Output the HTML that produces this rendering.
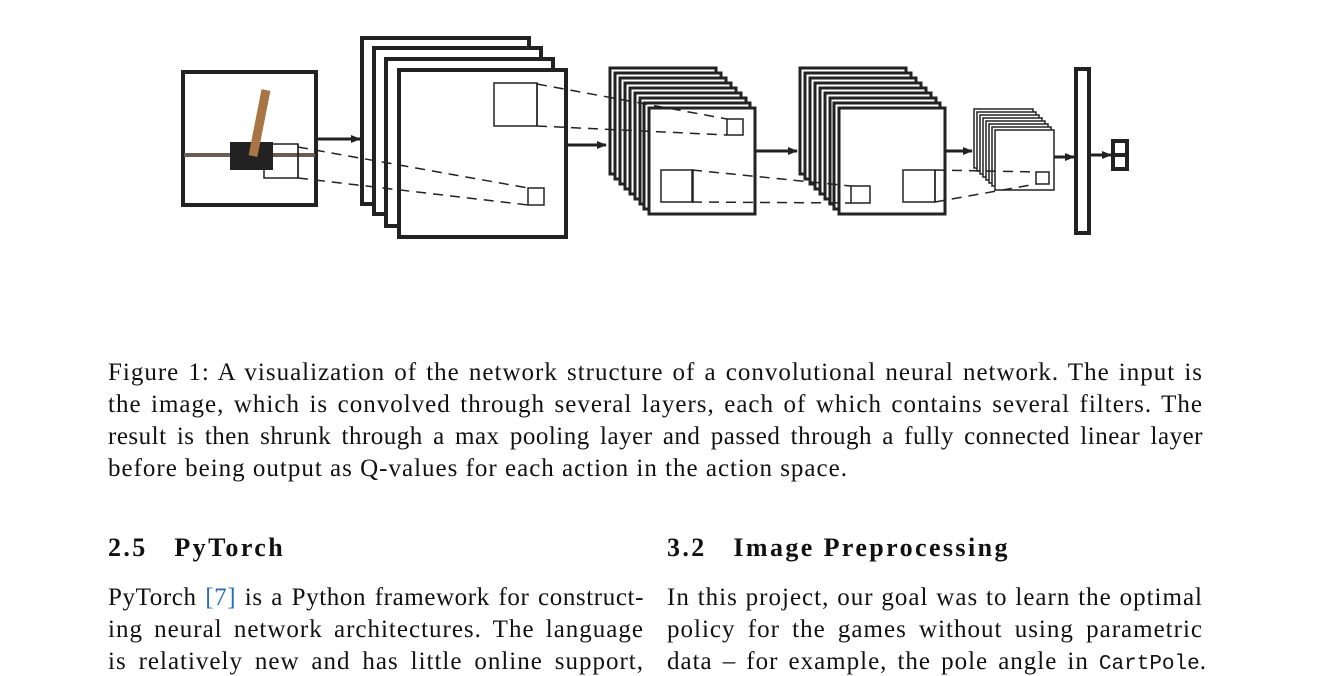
<!DOCTYPE html>
<html><head><meta charset="utf-8"><style>
html,body{margin:0;padding:0;background:#fff;}
body{width:1337px;height:675px;position:relative;overflow:hidden;font-family:"Liberation Serif",serif;color:#111;}
.l{position:absolute;font-size:25px;letter-spacing:1px;white-space:nowrap;line-height:1;}
.j{text-align:justify;text-align-last:justify;}
.h{position:absolute;font-size:26px;letter-spacing:2.4px;font-weight:bold;white-space:nowrap;line-height:1;}
.tt{font-family:"Liberation Mono",monospace;font-size:21px;letter-spacing:0;}
</style></head><body>
<svg width="1337" height="300" style="position:absolute;left:0;top:0" xmlns="http://www.w3.org/2000/svg">
<defs><marker id="a" markerWidth="10" markerHeight="8" refX="9" refY="4" orient="auto" markerUnits="userSpaceOnUse"><path d="M0,0 L10,4 L0,8 z" fill="#222"/></marker></defs>
<g fill="#fff" stroke="#222">
<rect x="183" y="72" width="133" height="133" stroke-width="4"/>
<line x1="184" y1="155" x2="315" y2="155" stroke="#6b5d4f" stroke-width="4"/>
<rect x="230" y="142" width="43" height="28" fill="#222" stroke="none"/>
<line x1="266" y1="90" x2="253" y2="156" stroke="#a87545" stroke-width="9"/>
<rect x="264" y="144" width="34" height="34" stroke-width="1.5" fill="none"/>
<rect x="362" y="38" width="167" height="166" stroke-width="4"/>
<rect x="374" y="48" width="167" height="166" stroke-width="4"/>
<rect x="386" y="59" width="167" height="167" stroke-width="4"/>
<rect x="399" y="70" width="167" height="167" stroke-width="4"/>
<rect x="494" y="83" width="43" height="43" stroke-width="1.5"/>
<rect x="528" y="188" width="16" height="17" stroke-width="1.5"/>
<rect x="610" y="68" width="106" height="106" stroke-width="3"/>
<rect x="615" y="73" width="106" height="106" stroke-width="3"/>
<rect x="620" y="78" width="106" height="106" stroke-width="3"/>
<rect x="625" y="83" width="106" height="106" stroke-width="3"/>
<rect x="630" y="88" width="106" height="106" stroke-width="3"/>
<rect x="635" y="93" width="106" height="106" stroke-width="3"/>
<rect x="640" y="98" width="106" height="106" stroke-width="3"/>
<rect x="644" y="103" width="106" height="106" stroke-width="3"/>
<rect x="649" y="108" width="106" height="106" stroke-width="3"/>
<rect x="727" y="119" width="16" height="16" stroke-width="1.5"/>
<rect x="661" y="170" width="32" height="32" stroke-width="1.5"/>
<rect x="800" y="68" width="106" height="106" stroke-width="3"/>
<rect x="805" y="73" width="106" height="106" stroke-width="3"/>
<rect x="810" y="78" width="106" height="106" stroke-width="3"/>
<rect x="815" y="83" width="106" height="106" stroke-width="3"/>
<rect x="820" y="88" width="106" height="106" stroke-width="3"/>
<rect x="825" y="93" width="106" height="106" stroke-width="3"/>
<rect x="830" y="98" width="106" height="106" stroke-width="3"/>
<rect x="834" y="103" width="106" height="106" stroke-width="3"/>
<rect x="839" y="108" width="106" height="106" stroke-width="3"/>
<rect x="851" y="186" width="19" height="17" stroke-width="1.5"/>
<rect x="903" y="170" width="32" height="32" stroke-width="1.5"/>
<rect x="974" y="109" width="59" height="59" stroke-width="1.5"/>
<rect x="977" y="112" width="59" height="59" stroke-width="1.5"/>
<rect x="980" y="115" width="59" height="59" stroke-width="1.5"/>
<rect x="983" y="118" width="59" height="59" stroke-width="1.5"/>
<rect x="986" y="121" width="59" height="59" stroke-width="1.5"/>
<rect x="989" y="124" width="59" height="59" stroke-width="1.5"/>
<rect x="992" y="127" width="59" height="59" stroke-width="1.5"/>
<rect x="995" y="130" width="59" height="60" stroke-width="1.5"/>
<rect x="1036" y="172" width="13" height="12" stroke-width="1.5"/>
<rect x="1076" y="69" width="13" height="164" stroke-width="4"/>
<rect x="1113" y="141" width="14" height="28" stroke-width="4"/>
<line x1="1113" y1="155" x2="1127" y2="155" stroke-width="4"/>
</g>
<g stroke="#222" stroke-width="1.5">
<line x1="298" y1="144" x2="298" y2="178"/>
<line x1="537" y1="83" x2="537" y2="126"/>
<line x1="692" y1="170" x2="692" y2="202"/>
<line x1="935" y1="170" x2="935" y2="202"/>
</g>
<g stroke="#222" stroke-width="1.5" stroke-dasharray="10,7" fill="none">
<line x1="298" y1="147" x2="528" y2="188"/>
<line x1="298" y1="178" x2="528" y2="205"/>
<line x1="537" y1="84" x2="727" y2="119"/>
<line x1="537" y1="126" x2="727" y2="135"/>
<line x1="692" y1="170" x2="851" y2="186"/>
<line x1="692" y1="202" x2="851" y2="203"/>
<line x1="935" y1="170" x2="1036" y2="172"/>
<line x1="935" y1="202" x2="1036" y2="184"/>
</g>
<g stroke="#222" stroke-width="3" marker-end="url(#a)">
<line x1="317" y1="139" x2="360" y2="139"/>
<line x1="566" y1="145" x2="606" y2="145"/>
<line x1="755" y1="151" x2="797" y2="151"/>
<line x1="945" y1="151" x2="972" y2="151"/>
<line x1="1054" y1="157" x2="1074" y2="157"/>
<line x1="1090" y1="155" x2="1111" y2="155"/>
</g>
</svg>
<div class="l j" style="left:108px;top:360px;width:1095px">Figure 1: A visualization of the network structure of a convolutional neural network. The input is</div>
<div class="l j" style="left:108px;top:392px;width:1095px">the image, which is convolved through several layers, each of which contains several filters. The</div>
<div class="l j" style="left:108px;top:424px;width:1095px;letter-spacing:0.5px">result is then shrunk through a max pooling layer and passed through a fully connected linear layer</div>
<div class="l" style="left:108px;top:456px;">before being output as Q-values for each action in the action space.</div>
<div class="h" style="left:108px;top:535px">2.5&nbsp;&nbsp;&nbsp;PyTorch</div>
<div class="h" style="left:667px;top:535px">3.2&nbsp;&nbsp;&nbsp;Image Preprocessing</div>
<div class="l j" style="left:108px;top:585px;width:536px;letter-spacing:0.6px">PyTorch <span style="color:#2a6fb0">[7]</span> is a Python framework for construct-</div>
<div class="l j" style="left:108px;top:617px;width:536px">ing neural network architectures. The language</div>
<div class="l j" style="left:108px;top:649px;width:536px">is relatively new and has little online support,</div>
<div class="l j" style="left:667px;top:585px;width:536px">In this project, our goal was to learn the optimal</div>
<div class="l j" style="left:667px;top:617px;width:536px">policy for the games without using parametric</div>
<div class="l j" style="left:667px;top:649px;width:540px">data – for example, the pole angle in <span class="tt">CartPole</span>.</div>
</body></html>
